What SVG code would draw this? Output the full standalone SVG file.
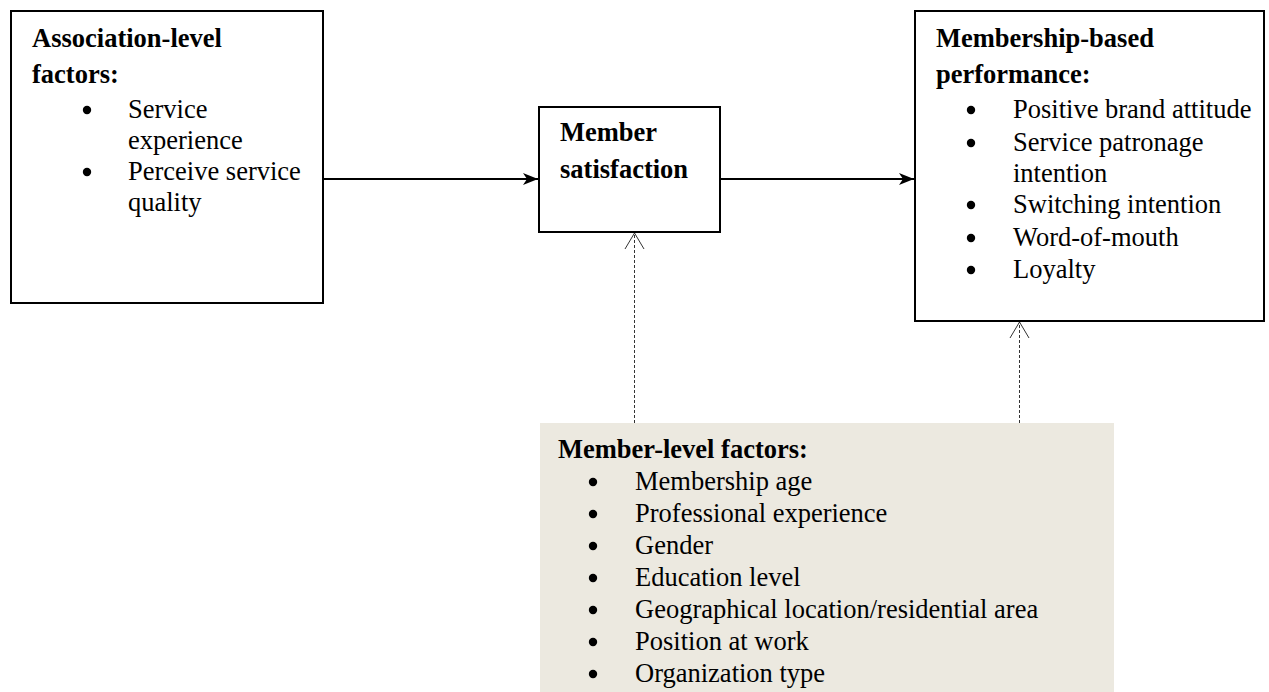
<svg xmlns="http://www.w3.org/2000/svg" width="1269" height="692" viewBox="0 0 1269 692">
<style>
.box{fill:#fff;stroke:#000;stroke-width:2}
.t{font-family:"Liberation Serif","Times New Roman",serif;font-size:26.5px;fill:#000}
.b{font-weight:bold}
.solid{stroke:#000;stroke-width:2;fill:none}
.dash{stroke:#333;stroke-width:1;stroke-dasharray:3 2;fill:none}
.chev{stroke:#333;stroke-width:1;fill:none}
</style>
<defs>
<marker id="ah" markerWidth="16" markerHeight="14" refX="15" refY="7" orient="auto" markerUnits="userSpaceOnUse">
<path d="M0,1 L15,7 L0,13 L4,7 z" fill="#000"/>
</marker>
</defs>
<rect width="1269" height="692" fill="#fff"/>
<g id="association">
<rect class="box" x="11" y="11" width="312" height="292"/>
<text class="t b" x="32" y="47">Association-level</text>
<text class="t b" x="32" y="83">factors:</text>
<circle cx="87" cy="110" r="4.2"/>
<text class="t" x="128" y="118">Service</text>
<text class="t" x="128" y="149">experience</text>
<circle cx="87" cy="172" r="4.2"/>
<text class="t" x="128" y="180">Perceive service</text>
<text class="t" x="128" y="211">quality</text>
</g>
<g id="satisfaction">
<rect class="box" x="539" y="107" width="181" height="125"/>
<text class="t b" x="560" y="141">Member</text>
<text class="t b" x="560" y="178">satisfaction</text>
</g>
<g id="performance">
<rect class="box" x="915" y="11" width="349" height="310"/>
<text class="t b" x="936" y="47">Membership-based</text>
<text class="t b" x="936" y="83">performance:</text>
<circle cx="971" cy="110" r="4.2"/>
<text class="t" x="1013" y="118">Positive brand attitude</text>
<circle cx="971" cy="143" r="4.2"/>
<text class="t" x="1013" y="151">Service patronage</text>
<text class="t" x="1013" y="182">intention</text>
<circle cx="971" cy="205" r="4.2"/>
<text class="t" x="1013" y="213">Switching intention</text>
<circle cx="971" cy="238" r="4.2"/>
<text class="t" x="1013" y="246">Word-of-mouth</text>
<circle cx="971" cy="270" r="4.2"/>
<text class="t" x="1013" y="278">Loyalty</text>
</g>
<g id="member-level">
<rect x="540" y="423" width="574" height="269" fill="#ECE9E0"/>
<text class="t b" x="558" y="458">Member-level factors:</text>
<circle cx="593" cy="482" r="4.2"/>
<text class="t" x="635" y="490">Membership age</text>
<circle cx="593" cy="514" r="4.2"/>
<text class="t" x="635" y="522">Professional experience</text>
<circle cx="593" cy="546" r="4.2"/>
<text class="t" x="635" y="554">Gender</text>
<circle cx="593" cy="578" r="4.2"/>
<text class="t" x="635" y="586">Education level</text>
<circle cx="593" cy="610" r="4.2"/>
<text class="t" x="635" y="618">Geographical location/residential area</text>
<circle cx="593" cy="642" r="4.2"/>
<text class="t" x="635" y="650">Position at work</text>
<circle cx="593" cy="674" r="4.2"/>
<text class="t" x="635" y="682">Organization type</text>
</g>
<g id="connectors">
<line class="solid" x1="324" y1="179" x2="538" y2="179" marker-end="url(#ah)"/>
<line class="solid" x1="721" y1="179" x2="914" y2="179" marker-end="url(#ah)"/>
<line class="dash" x1="634.5" y1="423" x2="634.5" y2="233"/>
<path class="chev" d="M625,249 L634.5,233 L644,249"/>
<line class="dash" x1="1019.5" y1="423" x2="1019.5" y2="322"/>
<path class="chev" d="M1010,338 L1019.5,322 L1029,338"/>
</g>
</svg>
